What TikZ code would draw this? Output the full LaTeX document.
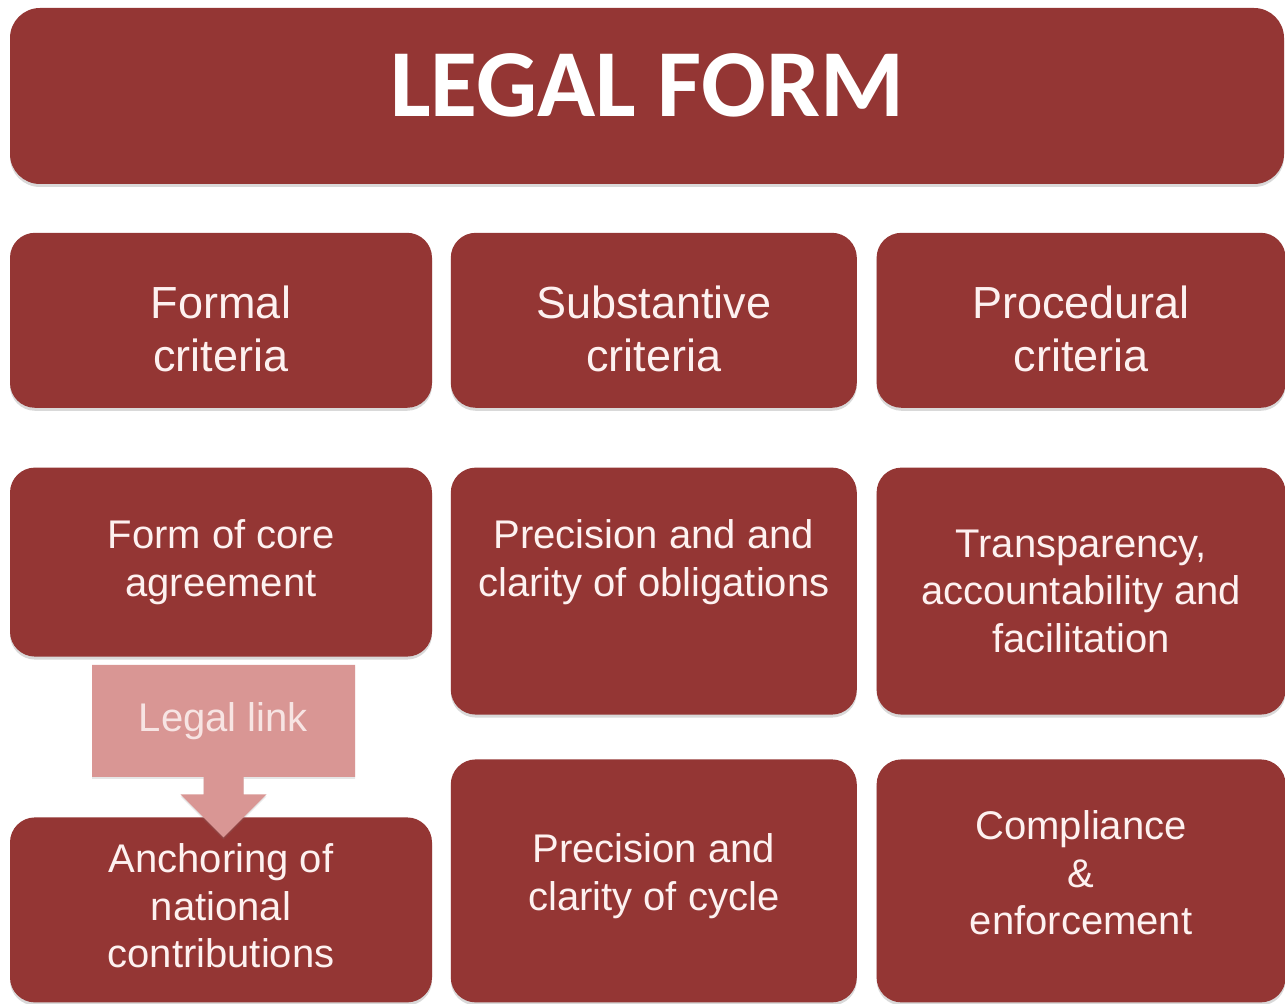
\documentclass[tikz,border=0pt]{standalone}
\usepackage{fontspec}
\setmainfont{Liberation Sans}
\newfontfamily\titlefont{Carlito}
\usepackage{tikz}
\usetikzlibrary{positioning,shapes.arrows,shadows}
\definecolor{boxred}{HTML}{943634}
\definecolor{linkpink}{HTML}{D99694}
\definecolor{boxtext}{HTML}{FDF1F0}
\definecolor{linktext}{HTML}{F7E4E3}

\begin{document}
\begin{tikzpicture} [x=0.5pt,y=-0.5pt,inner sep=0pt,
  box/.style={rectangle,rounded corners=12.5pt,fill=boxred,text=boxtext,align=center,
    font=\fontsize{20pt}{23.7pt}\selectfont,
    drop shadow={shadow xshift=0pt,shadow yshift=-1.5pt,opacity=.3}},
  crit/.style={box,minimum height=87.5pt,text height=51.5pt,font=\fontsize{22.5pt}{26.5pt}\selectfont}]

  \useasboundingbox (0,0) rectangle (1285,1004);

  \node[box,rounded corners=15pt,minimum width=637pt,minimum height=88pt,text=white,text depth=11pt,
    font=\titlefont\bfseries\fontsize{48pt}{58pt}\selectfont] (title) at (647,96) {LEGAL FORM};

  \node[crit,minimum width=211pt] (formal) [below=24pt of title.south west,anchor=north west] {Formal\\criteria};
  \node[crit,minimum width=203pt] (subst) [right=9pt of formal] {Substantive\\criteria};
  \node[crit,minimum width=204.5pt] (proc) [right=9.5pt of subst] {Procedural\\criteria};

  \node[box,minimum width=211pt,minimum height=94.5pt] (core) [below=29.5pt of formal] {Form of core\\agreement};
  \node[box,minimum width=203pt,minimum height=123.5pt,text depth=33pt] (oblig) [below=29.5pt of subst] {Precision and and\\clarity of obligations};
  \node[box,minimum width=204.5pt,minimum height=123.5pt] (transp) [below=29.5pt of proc] {Transparency,\\accountability and\\facilitation};

  \node[box,minimum width=211pt,minimum height=92.5pt,text depth=4pt] (anch) [below=80pt of core] {Anchoring of\\national\\contributions};
  \node[box,minimum width=203pt,minimum height=121.5pt,text depth=9pt] (cycle) [below=22pt of oblig] {Precision and\\clarity of cycle};
  \node[box,minimum width=204.5pt,minimum height=121.5pt,text depth=8pt] (compl) [below=22pt of transp] {Compliance\\\&\\enforcement};

  \node[arrow box,arrow box arrows={south:30pt from border},arrow box shaft width=20pt,
    arrow box head extend=11.5pt,arrow box head indent=0pt,fill=linkpink,text=linktext,
    minimum width=131.5pt,minimum height=56pt,font=\fontsize{20pt}{23.7pt}\selectfont,
    drop shadow={shadow xshift=0pt,shadow yshift=-1pt,opacity=.2}]
    (link) at (223.5,721) {Legal link};

\end{tikzpicture}
\end{document}
